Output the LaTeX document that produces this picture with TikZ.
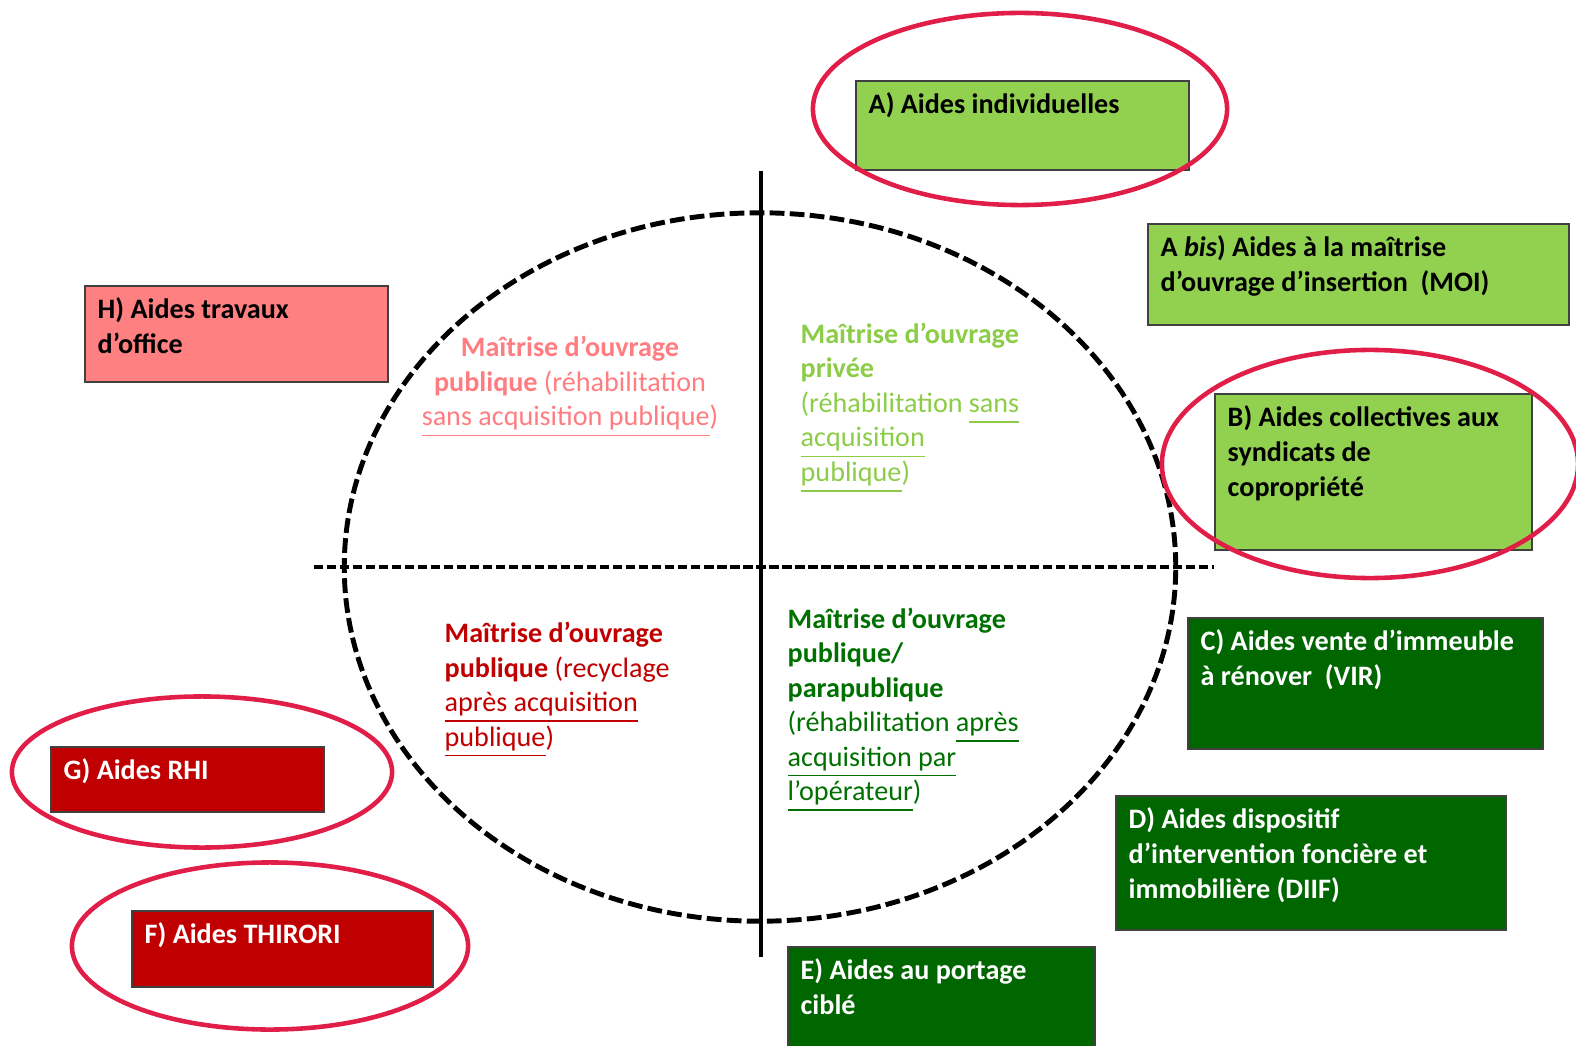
\documentclass[tikz,border=0pt]{standalone}
\usepackage{fontspec}
\setmainfont{Carlito}
\definecolor{lgreen}{RGB}{146,208,80}
\definecolor{dgreen}{RGB}{0,102,0}
\definecolor{dred}{RGB}{192,0,0}
\definecolor{pinkbox}{RGB}{255,128,128}
\definecolor{pinktxt}{RGB}{255,124,128}
\definecolor{lgreentxt}{RGB}{140,204,72}
\definecolor{dgreentxt}{RGB}{0,112,0}
\definecolor{ringred}{RGB}{225,30,72}
\newcommand{\ulw}[1]{\underline{#1\vphantom{q}}}

\begin{document}
\begin{tikzpicture}[x=0.01cm,y=-0.01cm,
  box/.style={draw=black!75,line width=0.6pt,anchor=north west,inner sep=0pt},
  boxtext/.style={anchor=north west,align=left,inner xsep=0.13cm,inner ysep=0.12cm,
    font=\fontsize{8}{10}\selectfont\bfseries},
  ring/.style={draw=ringred,line width=1.3pt},
  quad/.style={inner sep=0pt,font=\fontsize{8}{9.8}\selectfont}]
\useasboundingbox (0,0) rectangle (1576,1046);

%%Circle and axes
\draw[line width=1.4pt,dash pattern=on 4.2pt off 1.5pt] (760,567) ellipse [x radius=4.155cm, y radius=3.54cm];
\coordinate (ytop) at (761,171);
\coordinate (ybot) at (761,957);
\coordinate (xleft) at (314,567);
\coordinate (xright) at (1214,567);
\draw[line width=1.4pt] (ytop) -- (ybot);
\draw[line width=1.1pt,dash pattern=on 2.6pt off 1.1pt] (xleft) -- (xright);

%%Quadrants
\node[quad,text=pinktxt,align=center] (qpink) at (570,387)
  {\textbf{Maîtrise d’ouvrage}\\\textbf{publique} (réhabilitation\\\ulw{sans acquisition publique})};
\node[quad,text=lgreentxt,align=left,anchor=west] (qprivee) at (800,408)
  {\textbf{Maîtrise d’ouvrage}\\\textbf{privée}\\(réhabilitation \ulw{sans}\\\ulw{acquisition}\\\ulw{publique})};
\node[quad,text=dred,align=left,anchor=west] (qrecyc) at (444,690)
  {\textbf{Maîtrise d’ouvrage}\\\textbf{publique} (recyclage\\\ulw{après acquisition}\\\ulw{publique})};
\node[quad,text=dgreentxt,align=left,anchor=west] (qpara) at (787,710)
  {\textbf{Maîtrise d’ouvrage}\\\textbf{publique/}\\\textbf{parapublique}\\(réhabilitation \ulw{après}\\\ulw{acquisition par}\\\ulw{l’opérateur})};

%%Boxes
\node[box,fill=lgreen,minimum width=3.33cm,minimum height=0.89cm] (boxA) at (855,80) {};
\node[boxtext] (txtA) at (boxA.north west) {A) Aides individuelles};
\node[box,fill=lgreen,minimum width=4.21cm,minimum height=1.01cm] (boxAbis) at (1147,223) {};
\node[boxtext] (txtAbis) at (boxAbis.north west) {A \textit{bis}) Aides à la maîtrise\\d’ouvrage d’insertion\ \ (MOI)};
\node[box,fill=lgreen,minimum width=3.17cm,minimum height=1.56cm] (boxB) at (1214,393) {};
\node[boxtext] (txtB) at (boxB.north west) {B) Aides collectives aux\\syndicats de\\copropriété};
\node[box,fill=dgreen,minimum width=3.55cm,minimum height=1.31cm] (boxC) at (1187,617) {};
\node[boxtext,text=white] (txtC) at (boxC.north west) {C) Aides vente d’immeuble\\à rénover\ \ (VIR)};
\node[box,fill=dgreen,minimum width=3.90cm,minimum height=1.34cm] (boxD) at (1115,795) {};
\node[boxtext,text=white] (txtD) at (boxD.north west) {D) Aides dispositif\\d’intervention foncière et\\immobilière (DIIF)};
\node[box,fill=dgreen,minimum width=3.07cm,minimum height=1.10cm] (boxE) at (787,946) {};
\node[boxtext,text=white] (txtE) at (boxE.north west) {E) Aides au portage\\ciblé};
\node[box,fill=dred,minimum width=3.01cm,minimum height=0.76cm] (boxF) at (131,910) {};
\node[boxtext,text=white] (txtF) at (boxF.north west) {F) Aides THIRORI};
\node[box,fill=dred,minimum width=2.73cm,minimum height=0.65cm] (boxG) at (50,746) {};
\node[boxtext,text=white] (txtG) at (boxG.north west) {G) Aides RHI};
\node[box,fill=pinkbox,minimum width=3.03cm,minimum height=0.96cm] (boxH) at (84,285) {};
\node[boxtext] (txtH) at (boxH.north west) {H) Aides travaux\\d’office};

%%Rings
\draw[ring] (1020,109) ellipse [x radius=2.07cm, y radius=0.96cm];
\draw[ring] (1370,464) ellipse [x radius=2.08cm, y radius=1.14cm];
\draw[ring] (202,772) ellipse [x radius=1.90cm, y radius=0.755cm];
\draw[ring] (270,946) ellipse [x radius=1.98cm, y radius=0.835cm];

\end{tikzpicture}
\end{document}
